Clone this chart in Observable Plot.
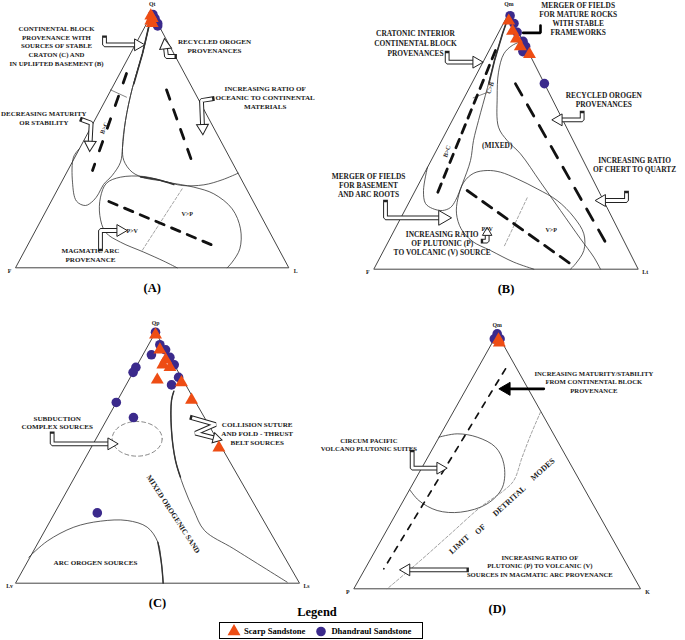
<!DOCTYPE html>
<html><head><meta charset="utf-8">
<script src="https://cdn.jsdelivr.net/npm/d3@7"></script>
<script src="https://cdn.jsdelivr.net/npm/@observablehq/plot@0.6"></script>
<style>
html,body{margin:0;padding:0;background:#fff;}
#fig{position:relative;width:685px;height:640px;overflow:hidden;font-family:"Liberation Serif","Times New Roman",serif;}
.panel{position:absolute;}
#legendTitle{position:absolute;left:257px;width:120px;top:605px;text-align:center;font-weight:bold;font-size:12.5px;}
#legendBox{position:absolute;left:219px;top:622px;width:202px;height:15px;border:1px solid #000;display:flex;align-items:center;font-weight:bold;font-size:8.6px;white-space:nowrap;}
#legendBox svg{display:block;}
</style></head><body><div id="fig"></div>
<script>
// ---------- data ----------
const seriesNames = ["Scarp Sandstone", "Dhandraul Sandstone"];
const seriesColors = ["#ee4d14", "#3b2a8c"];
const seriesSymbols = ["triangle", "circle"];
const panelLetters = ["(A)", "(B)", "(C)", "(D)"];
const apexLabels = ["Qt", "Qm", "Qp", "Qm"];
const leftLabels = ["F", "F", "Lv", "P"];
const rightLabels = ["L", "Lt", "Ls", "K"];
// compositions: [apex, left corner, right corner] in %
const qtflScarp = [[99, 1, 0], [98, 1, 1], [97, 2, 1], [96, 2, 2]];
const qtflDhandraul = [[99.5, 0, 0.5], [98, 0, 2], [96, 0, 4], [95, 0.5, 4.5]];
const qmfltScarp = [[97, 1.5, 1.5], [93, 2, 5], [90, 2, 8], [87, 2, 11], [84, 0, 16]];
const qmfltDhandraul = [[99, 0, 1], [96, 0, 4], [92.5, 0.5, 7], [89, 0, 11], [87, 0, 13], [85, 2, 13], [72.5, 0, 27.5]];
const qplvlsScarp = [[99, 0.5, 0.5], [93, 2, 5], [89, 2, 9], [87, 4, 9], [86, 2, 12], [81, 9, 10], [80, 1, 19], [73, 1, 26], [54, 1, 45]];
const qplvlsDhandraul = [[100, 0, 0], [95, 1, 4], [93, 0, 7], [90, 0, 10], [87, 0, 13], [91, 6, 3], [86, 14, 0], [84, 16, 0], [82, 1, 17], [79, 5, 16], [72, 28, 0], [66, 25, 9], [28, 57, 15]];
const qmpkScarp = [[97.7, 0.7, 1.6], [96.5, 1, 2.5]];
const qmpkDhandraul = [[100, 0, 0], [98, 0, 2], [98, 2, 0]];

const FONT = "'Liberation Serif','Times New Roman',serif";
const INK = "#1a1a1a";

// ---------- layout ----------
const panels = [
  {ox: 0,   oy: 0,   box: [0, 0, 342, 300],   left: 15,    right: 288.3, base: 267.3, apexX: 151.7, apexY: 12.7, fs: 7.1, scarp: qtflScarp, dhan: qtflDhandraul},
  {ox: 340, oy: 0,   box: [342, 0, 343, 300], left: 373.3, right: 637.7, base: 268.7, apexX: 508.3, apexY: 12.7, fs: 7.4, scarp: qmfltScarp, dhan: qmfltDhandraul},
  {ox: 0,   oy: 300, box: [0, 300, 342, 306], left: 15,    right: 299,   base: 582.7, apexX: 155,   apexY: 331.7, fs: 7.1, scarp: qplvlsScarp, dhan: qplvlsDhandraul},
  {ox: 340, oy: 300, box: [342, 300, 343, 306], left: 353.3, right: 640, base: 588.3, apexX: 496.7, apexY: 333.3, fs: 6.7, scarp: qmpkScarp, dhan: qmpkDhandraul}
];

function tern(p, [t, l, r]) {
  const s = t + l + r;
  return [(t * p.apexX + l * p.left + r * p.right) / s, (t * p.apexY + (l + r) * p.base) / s];
}

function helpers(p) {
  const Z = ([a, b]) => [p.ox + a / 3, p.oy + b / 3];
  const line = (pts, o = {}) => Plot.line(pts.map(Z), {x: d => d[0], y: d => d[1], stroke: "#333", strokeWidth: 0.8, curve: "catmull-rom", ...o});
  const text = (a, b, s, o = {}) => {
    const [x, y] = Z([a, b]);
    return Plot.text([{x, y, s}], {x: "x", y: "y", text: "s", fontSize: p.fs, fontWeight: "bold", fontFamily: FONT, fill: INK, lineHeight: 1.25, ...o});
  };
  const dashes = (pts, dash, o = {}) => line(pts, {stroke: "#111", strokeWidth: 2.8, strokeDasharray: dash, curve: "linear", ...o});
  const head = (P, o, r = 4.4) => {
    const a = P[P.length - 2], b = P[P.length - 1];
    const dx = b[0] - a[0], dy = b[1] - a[1], L = Math.hypot(dx, dy);
    const tip = [b[0] + dx / L * 2.5, b[1] + dy / L * 2.5];
    const rot = Math.atan2(dx, -dy) * 180 / Math.PI;
    return Plot.dot([tip], {x: d => d[0], y: d => d[1], symbol: "triangle", r, rotate: rot, strokeWidth: 1, ...o});
  };
  const hollow = (pts, r = 4.4) => {
    const P = pts.map(Z);
    return [
      Plot.line(P, {x: d => d[0], y: d => d[1], stroke: "#222", strokeWidth: 4.8, strokeLinejoin: "miter", strokeLinecap: "square"}),
      Plot.line(P, {x: d => d[0], y: d => d[1], stroke: "#fff", strokeWidth: 2.8, strokeLinejoin: "miter", strokeLinecap: "butt"}),
      head(P, {fill: "#fff", stroke: "#222"}, r)
    ];
  };
  const solid = (pts, withHead = true) => {
    const P = pts.map(Z);
    const m = [Plot.line(P, {x: d => d[0], y: d => d[1], stroke: "#000", strokeWidth: 2.6, strokeLinejoin: "miter"})];
    if (withHead) m.push(head(P, {fill: "#000", stroke: "#000"}, 4.8));
    return m;
  };
  return {Z, line, text, dashes, hollow, solid};
}

// ---------- per-panel annotations ----------
const annotations = [
  // (A) Qt-F-L
  (h) => [
    h.line([[452,45],[426,159],[396,261],[375,360],[366,441],[360,485],[335,525],[309,552],[294,580],[279,600],[255,615],[228,602],[216,545],[219,470],[236,445]]),
    h.line([[452,48],[426,159],[400,250]], {strokeWidth: 1.6, curve: "linear"}),
    h.line([[452,45],[426,159],[396,261],[375,360],[366,441],[370,480],[395,515],[435,533],[490,542],[545,555],[610,553],[665,538],[713,518]]),
    h.line([[530,802],[490,782],[430,755],[360,725],[315,695],[298,645],[300,590],[318,548],[360,530],[430,528],[500,545],[580,560],[640,580],[695,625],[720,685],[718,745],[695,785],[680,802]]),
    h.line([[420,529],[470,537],[520,552]], {strokeWidth: 1.6}),
    h.line([[330,268],[378,290]], {curve: "linear", strokeWidth: 0.6}),
    h.line([[545,565],[425,750]], {curve: "linear", strokeWidth: 0.6, strokeDasharray: "3,2", stroke: "#666"}),
    h.dashes([[378,219],[276,510]], "10,14"),
    h.dashes([[498,268],[575,485]], "10,11"),
    h.dashes([[325,603],[650,740]], "9,8"),
    ...h.hollow([[312,112],[312,133],[405,133]]),
    ...h.hollow([[522,168],[498,168],[495,142]]),
    ...h.hollow([[635,295],[603,300],[606,375]]),
    ...h.hollow([[245,358],[272,368],[269,425]]),
    ...h.hollow([[300,745],[300,690],[352,690]]),
    h.text(168,135,"CONTINENTAL BLOCK\nPROVENANCE WITH\nSOURCES OF STABLE\nCRATON (C) AND\nIN UPLIFTED BASEMENT (B)",{fontSize:6.8,lineHeight:1.3}),
    h.text(642,135,"RECYCLED OROGEN\nPROVENANCES"),
    h.text(794,289,"INCREASING RATIO OF\nOCEANIC TO CONTINENTAL\nMATERIALS"),
    h.text(130,352,"DECREASING MATURITY\nOR STABILITY",{fontSize:6.9}),
    h.text(310,382,"B>C",{rotate:-68,fontSize:6.2}),
    h.text(395,690,"P>V",{fontSize:6}),
    h.text(560,640,"V>P",{fontSize:6}),
    h.text(270,762,"MAGMATIC ARC\nPROVENANCE")
  ],
  // (B) Qm-F-Lt
  (h) => [
    h.line([[505,45],[486,100],[462,180],[441,261],[414,360],[399,420],[390,480],[366,549],[345,600],[330,621],[306,630],[276,624],[255,609],[249,570],[261,500]]),
    h.line([[505,45],[486,100],[462,180],[445,250]], {strokeWidth: 1.6, curve: "linear"}),
    h.line([[549,120],[515,135],[490,160],[474,215],[470,290],[474,380],[500,420],[540,460],[600,545],[660,630],[720,715],[760,770],[780,806]]),
    h.line([[580,806],[520,785],[450,750],[395,722],[362,685],[348,640],[352,595],[370,545],[400,518],[440,510],[480,515],[530,535],[590,565],[650,600],[700,650],[730,700],[730,750],[705,790],[690,806]]),
    h.line([[560,592],[490,740]], {curve: "linear", strokeWidth: 0.6, strokeDasharray: "3,2", stroke: "#666"}),
    h.line([[398,292],[440,276]], {curve: "linear", strokeWidth: 0.6}),
    h.dashes([[465,150],[290,580]], "9,7"),
    h.dashes([[525,250],[795,725]], "13,11"),
    h.dashes([[380,570],[690,790]], "11,8"),
    ...h.solid([[600,75],[600,97],[548,97]], false),
    ...h.hollow([[320,158],[320,185],[400,185]]),
    ...h.hollow([[725,338],[725,358],[662,358]]),
    ...h.hollow([[858,578],[858,600],[792,600]]),
    ...h.hollow([[135,605],[135,652],[300,652]], 5.5),
    ...h.hollow([[428,722],[440,722],[440,704]], 3.5),
    h.text(713,54,"MERGER OF FIELDS\nFOR MATURE ROCKS\nWITH STABLE\nFRAMEWORKS"),
    h.text(225,128,"CRATONIC INTERIOR\nCONTINENTAL BLOCK\nPROVENANCES",{lineHeight:1.35}),
    h.text(470,435,"(MIXED)"),
    h.text(318,452,"B>C",{rotate:-72,fontSize:6.2}),
    h.text(448,262,"C>B",{rotate:-72,fontSize:6.2}),
    h.text(790,298,"RECYCLED OROGEN\nPROVENANCES"),
    h.text(882,492,"INCREASING RATIO\nOF CHERT TO QUARTZ"),
    h.text(84,553,"MERGER OF FIELDS\nFOR BASEMENT\nAND ARC ROOTS"),
    h.text(305,728,"INCREASING RATIO\nOF PLUTONIC (P)\nTO VOLCANIC (V) SOURCE"),
    h.text(440,684,"P>V",{fontSize:6}),
    h.text(632,688,"V>P",{fontSize:6})
  ],
  // (C) Qp-Lv-Ls
  (h) => [
    h.line([[85,770],[140,722],[220,680],[300,662],[380,660],[440,680],[472,725],[483,790],[488,848]]),
    h.line([[472,725],[483,790],[488,848]], {strokeWidth: 1.4}),
    h.line([[520,272],[513,300],[513,390],[525,480],[550,560],[580,630],[612,690],[700,745],[860,845]]),
    h.line([[520,272],[513,300],[513,390],[525,480],[540,530]], {strokeWidth: 1.4}),
    h.line(d3.range(0, 361, 12).map(a => [410 + 75 * Math.cos(a * Math.PI / 180), 415 + 52 * Math.sin(a * Math.PI / 180)]), {stroke: "#666", strokeDasharray: "4,3", strokeWidth: 0.8}),
    ...h.hollow([[155,400],[155,430],[325,430]]),
    ...h.hollow([[575,352],[645,372],[585,398],[640,412]], 3.8),
    h.text(170,365,"SUBDUCTION\nCOMPLEX SOURCES"),
    h.text(770,398,"COLLISION SUTURE\nAND FOLD - THRUST\nBELT SOURCES"),
    h.text(520,640,"MIXED OROGENIC SAND",{rotate:57,fontSize:7.5}),
    h.text(285,785,"ARC OROGEN SOURCES",{fontSize:7.1})
  ],
  // (D) Qm-P-K
  (h) => [
    h.line([[295,410],[350,400],[410,410],[465,440],[490,490],[486,560],[440,610],[360,635],[290,630],[235,600],[208,568]]),
    h.line([[600,335],[572,400],[545,470],[520,540],[490,570],[420,620],[330,700],[240,780],[140,865]], {stroke: "#777", strokeWidth: 0.7, strokeDasharray: "3,2"}),
    h.dashes([[495,205],[130,805]], "6,7", {strokeWidth: 1.7}),
    ...h.solid([[610,265],[505,265]]),
    ...h.hollow([[215,455],[215,503],[292,503]]),
    ...h.hollow([[378,808],[205,808]]),
    h.text(760,243,"INCREASING MATURITY/STABILITY\nFROM CONTINENTAL BLOCK\nPROVENANCE"),
    h.text(85,432,"CIRCUM PACIFIC\nVOLCANO PLUTONIC SUITES"),
    h.text(355,730,"LIMIT",{rotate:-42,fontSize:8}),
    h.text(418,685,"OF",{rotate:-42,fontSize:8}),
    h.text(505,600,"DETRITAL",{rotate:-42,fontSize:8}),
    h.text(605,505,"MODES",{rotate:-42,fontSize:8}),
    h.text(598,795,"INCREASING RATIO OF\nPLUTONIC (P) TO VOLCANIC (V)\nSOURCES IN MAGMATIC ARC PROVENANCE")
  ]
];

// ---------- render ----------
const fig = document.getElementById("fig");
panels.forEach((p, i) => {
  const [x0, y0, w, h] = p.box;
  const H = helpers(p);
  const apex = [p.apexX, p.apexY], lc = [p.left, p.base], rc = [p.right, p.base];
  const rows = [];
  p.dhan.forEach(c => { const [x, y] = tern(p, c); rows.push({x, y, series: seriesNames[1]}); });
  p.scarp.forEach(c => { const [x, y] = tern(p, c); rows.push({x, y, series: seriesNames[0]}); });
  const cornerText = (pt, s, dx, dy, o = {}) => Plot.text([{x: pt[0], y: pt[1], s}], {x: "x", y: "y", text: "s", dx, dy, fontSize: 5.8, fontWeight: "bold", fontFamily: FONT, fill: INK, ...o});
  const chart = Plot.plot({
    width: w, height: h, margin: 0,
    x: {domain: [x0, x0 + w], axis: null},
    y: {domain: [y0 + h, y0], axis: null},
    color: {domain: seriesNames, range: seriesColors},
    symbol: {domain: seriesNames, range: seriesSymbols},
    style: {background: "transparent", overflow: "visible"},
    marks: [
      Plot.line([apex, lc, rc, apex], {x: d => d[0], y: d => d[1], stroke: "#444", strokeWidth: 1}),
      ...annotations[i](H),
      cornerText(apex, apexLabels[i], 0, -9),
      cornerText(lc, leftLabels[i], -6, 3),
      cornerText(rc, rightLabels[i], 7, 3),
      Plot.text([{x: (p.left + p.right) / 2, y: p.base, s: panelLetters[i]}], {x: "x", y: "y", text: "s", dy: 20, fontSize: 12.5, fontWeight: "bold", fontFamily: FONT, fill: "#000"}),
      Plot.dot(rows, {x: "x", y: "y", fill: "series", symbol: "series", r: 4.8})
    ]
  });
  chart.classList.add("panel");
  chart.style.left = x0 + "px";
  chart.style.top = y0 + "px";
  fig.appendChild(chart);
});

// ---------- legend ----------
const lt = document.createElement("div");
lt.id = "legendTitle"; lt.textContent = "Legend";
fig.appendChild(lt);
const lb = document.createElement("div");
lb.id = "legendBox";
fig.appendChild(lb);
const lsel = d3.select(lb);
seriesNames.forEach((name, i) => {
  const sv = lsel.append("svg").attr("width", 14).attr("height", 14).style("margin-left", i === 0 ? "7px" : "9px").style("margin-right", "3px");
  sv.append("path").attr("transform", "translate(7,7.5)")
    .attr("d", d3.symbol(i === 0 ? d3.symbolTriangle : d3.symbolCircle, 4.8 * 4.8 * Math.PI)())
    .attr("fill", seriesColors[i]);
  lsel.append("span").text(name);
});
</script></body></html>
